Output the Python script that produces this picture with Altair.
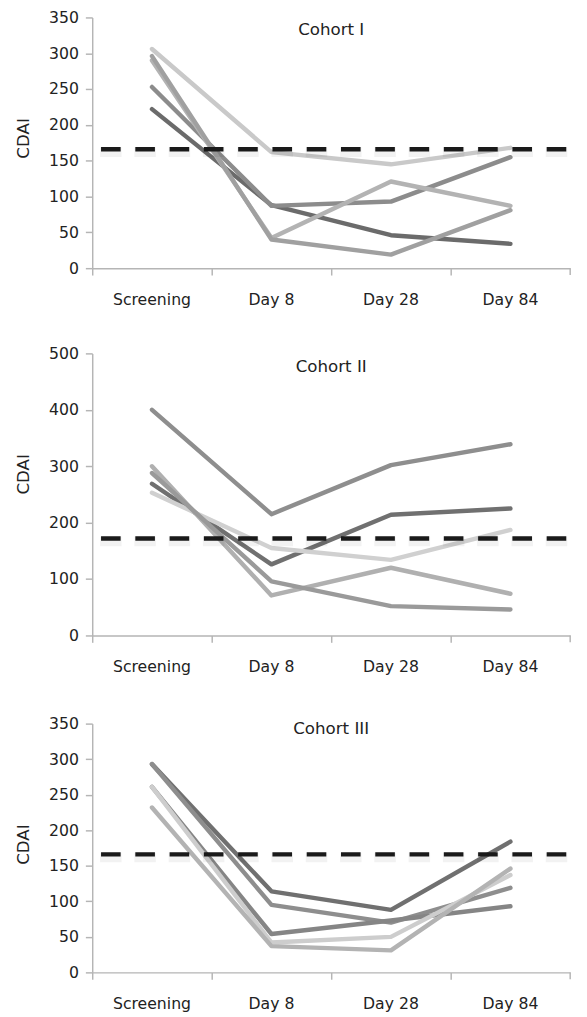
import altair as alt
import pandas as pd

visits = ["Screening", "Day 8", "Day 28", "Day 84"]

# Cohort I
c1_a = [306, 162, 145, 168]
c1_b = [222, 88, 46, 34]
c1_c = [253, 87, 93, 155]
c1_d = [290, 42, 121, 87]
c1_e = [296, 40, 19, 81]
c1_colors = ["#c9c9c9", "#6b6b6b", "#8c8c8c", "#b3b3b3", "#a0a0a0"]
c1_threshold = 166

# Cohort II
c2_a = [400, 215, 302, 339]
c2_b = [269, 126, 214, 225]
c2_c = [253, 155, 134, 187]
c2_d = [300, 71, 120, 74]
c2_e = [288, 96, 52, 46]
c2_colors = ["#8e8e8e", "#707070", "#d0d0d0", "#b0b0b0", "#9a9a9a"]
c2_threshold = 172

# Cohort III
c3_a = [293, 114, 88, 184]
c3_b = [293, 95, 70, 119]
c3_c = [261, 54, 73, 93]
c3_d = [261, 42, 50, 137]
c3_e = [232, 37, 31, 146]
c3_colors = ["#707070", "#8e8e8e", "#858585", "#cdcdcd", "#b3b3b3"]
c3_threshold = 166

W = 488
AX = "#b5b5b5"
TXT = "#222222"
FONT = "DejaVu Sans"


def panel(tag, series, colors, ymax, ystep, thr, title, h, ty):
    rows = []
    ids = []
    for i, vals in enumerate(series):
        pid = f"{tag}-{i + 1}"
        ids.append(pid)
        for v, val in zip(visits, vals):
            rows.append({"visit": v, "cdai": val, "pt": pid})
    df = pd.DataFrame(rows)

    x = alt.X(
        "visit:N",
        sort=visits,
        bandPosition=0.5,
        scale=alt.Scale(type="band", domain=visits, paddingInner=0, paddingOuter=0),
        axis=alt.Axis(
            title=None, labelAngle=0, bandPosition=0, tickSize=7, labelPadding=17,
            labelFont=FONT, labelFontSize=16, labelColor=TXT,
            domainColor=AX, tickColor=AX, domainWidth=1.5, tickWidth=1.5, grid=False,
        ),
    )
    yscale = alt.Scale(domain=[0, ymax], nice=False, zero=True)
    yaxis = alt.Axis(
        title="CDAI", values=list(range(0, ymax + 1, ystep)), tickCount=len(range(0, ymax + 1, ystep)),
        labelOverlap=False, tickSize=7,
        labelPadding=7, titlePadding=17, titleY=123,
        titleFont=FONT, titleFontSize=17, titleFontWeight="normal", titleColor=TXT,
        labelFont=FONT, labelFontSize=16, labelColor=TXT,
        domainColor=AX, tickColor=AX, domainWidth=1.5, tickWidth=1.5, grid=False,
    )
    y = alt.Y("cdai:Q", scale=yscale, axis=yaxis)

    lines = alt.Chart(df).mark_line(
        strokeWidth=4.5, strokeCap="round", strokeJoin="round"
    ).encode(
        x=x, y=y,
        color=alt.Color("pt:N", scale=alt.Scale(domain=ids, range=colors), legend=None),
        detail="pt:N",
    )

    thr_df = pd.DataFrame({"cdai": [thr]})
    shadow = alt.Chart(thr_df).mark_rule(
        color="#000000", opacity=0.05, strokeWidth=10, strokeDash=[22, 13], yOffset=3
    ).encode(y=alt.Y("cdai:Q", scale=yscale, axis=yaxis), x=alt.value(8), x2=alt.value(487))
    dash = alt.Chart(thr_df).mark_rule(
        color="#1a1a1a", strokeWidth=4.5, strokeDash=[20, 15]
    ).encode(y=alt.Y("cdai:Q", scale=yscale, axis=yaxis), x=alt.value(9), x2=alt.value(486))

    ttl = alt.Chart(pd.DataFrame({"t": [title]})).mark_text(
        font=FONT, fontSize=17, color=TXT, baseline="middle", align="center"
    ).encode(text="t:N", x=alt.value(244), y=alt.value(ty))

    end_tick = alt.Chart(pd.DataFrame({"a": [0]})).mark_rule(
        color=AX, strokeWidth=1.5
    ).encode(x=alt.value(W), y=alt.value(h), y2=alt.value(h + 7))

    return alt.layer(lines, shadow, dash, ttl, end_tick).properties(width=W, height=h)


p1 = panel("I", [c1_a, c1_b, c1_c, c1_d, c1_e], c1_colors, 350, 50, c1_threshold, "Cohort I", 256, 13)
p2 = panel("II", [c2_a, c2_b, c2_c, c2_d, c2_e], c2_colors, 500, 100, c2_threshold, "Cohort II", 288, 14)
p3 = panel("III", [c3_a, c3_b, c3_c, c3_d, c3_e], c3_colors, 350, 50, c3_threshold, "Cohort III", 254, 6)

top = alt.vconcat(p1, p2, spacing=39).resolve_scale(x="independent", y="independent", color="independent")
chart = alt.vconcat(top, p3, spacing=42).resolve_scale(
    x="independent", y="independent", color="independent"
).properties(
    padding={"left": 6, "top": -9, "right": 5, "bottom": 0}
).configure_view(stroke=None)

chart.save("out.html", embed_options={"renderer": "svg", "actions": False})
